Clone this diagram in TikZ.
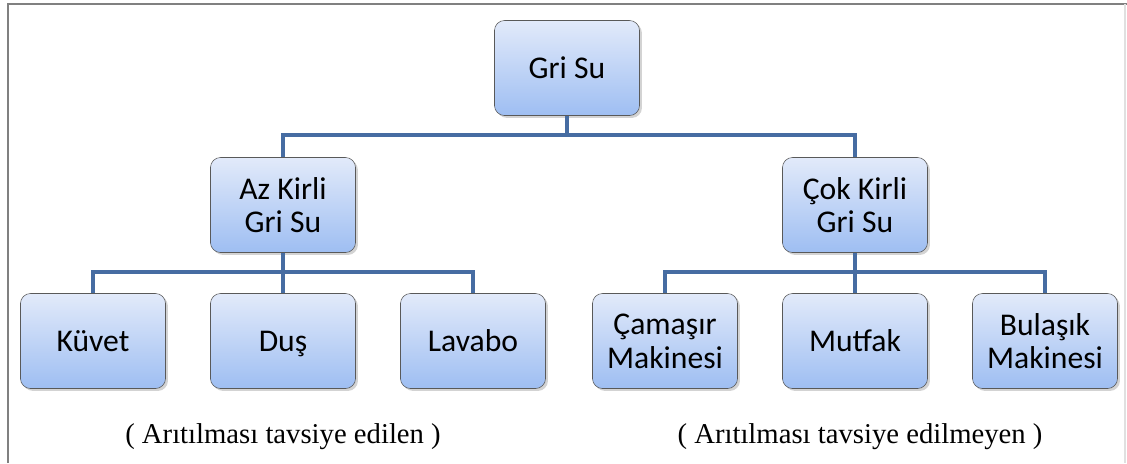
\documentclass[tikz,border=0pt]{standalone}
\usepackage{fontspec}
\setmainfont{Liberation Serif}
\newfontfamily\boxfont{Carlito}
\usepackage{tikz}
\usetikzlibrary{shadows}
\definecolor{linkblue}{RGB}{70,108,162}
\definecolor{boxtop}{RGB}{226,234,250}
\definecolor{boxbot}{RGB}{158,190,242}
\tikzstyle{block} = [rectangle, draw=black!65, rounded corners=0.25cm, top color=boxtop, bottom color=boxbot, minimum width=3.625cm, minimum height=2.375cm, align=center, font=\boxfont\fontsize{22.5}{24}\selectfont, drop shadow={opacity=0.35, shadow xshift=0.06cm, shadow yshift=-0.06cm}]
\tikzstyle{single} = [text depth=0pt]
\tikzstyle{line} = [draw=linkblue, line width=3pt]
\tikzstyle{note} = [font=\fontsize{20.4}{22}\selectfont]

\begin{document}
\begin{tikzpicture}[x=0.025cm, y=-0.025cm]
\useasboundingbox (0,0) rectangle (1127,463);
\draw [gray, line width=1.4pt] (8,463) -- (8,4) -- (1127,4);
\draw [black!12, line width=1pt] (1125,4) -- (1125,463);

\node [block, single] (gri) at (567,68) {Gri Su};
\node [block] (az) at (283,205) {Az Kirli\\Gri Su};
\node [block] (cok) at (855,205) {Çok Kirli\\Gri Su};
\path [line] (gri.south) -- ++(0,19) -| (az.north);
\path [line] (gri.south) -- ++(0,19) -| (cok.north);

\node [block, single] (kuv) at (93,341) {Küvet};
\node [block, single] (dus) at (283,341) {Duş};
\node [block, single] (lav) at (473,341) {Lavabo};
\path [line] (az.south) -- ++(0,19) -| (kuv.north);
\path [line] (az.south) -- (dus.north);
\path [line] (az.south) -- ++(0,19) -| (lav.north);

\node [block] (cam) at (665,341) {Çamaşır\\Makinesi};
\node [block, single] (mut) at (855,341) {Mutfak};
\node [block] (bul) at (1045,341) {Bulaşık\\Makinesi};
\path [line] (cok.south) -- ++(0,19) -| (cam.north);
\path [line] (cok.south) -- (mut.north);
\path [line] (cok.south) -- ++(0,19) -| (bul.north);

\node [note] (n1) at (283,437) {( Arıtılması tavsiye edilen )};
\node [note] (n2) at (860,437) {( Arıtılması tavsiye edilmeyen )};
\end{tikzpicture}
\end{document}
